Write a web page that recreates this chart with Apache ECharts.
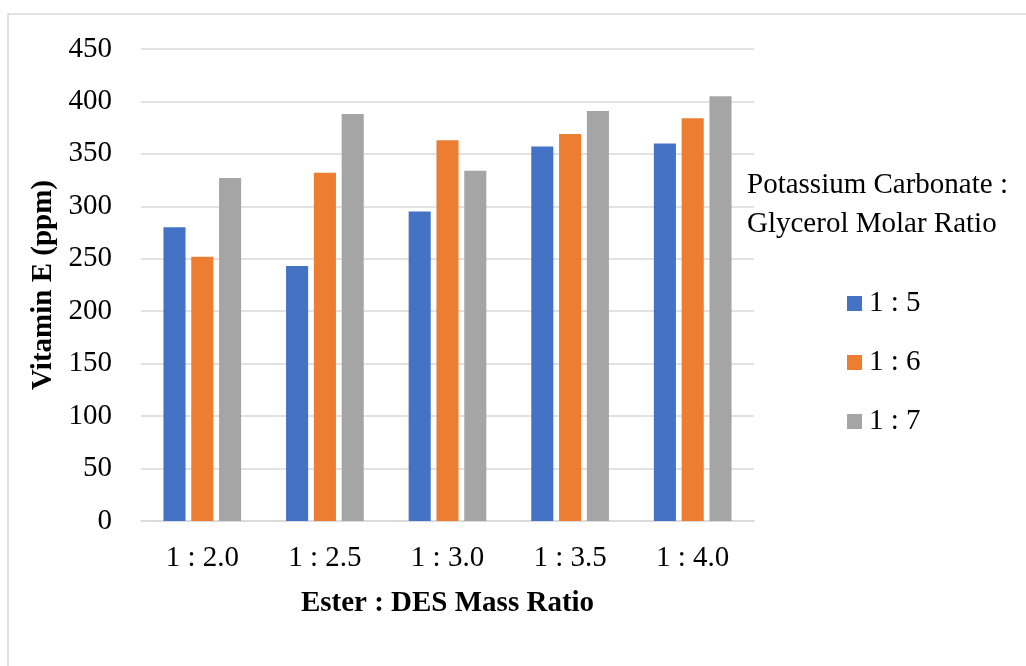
<!DOCTYPE html>
<html>
<head>
<meta charset="utf-8">
<script src="https://cdn.jsdelivr.net/npm/echarts@6/dist/echarts.min.js"></script>
<style>
html,body{margin:0;padding:0;background:#fff;}
#chart{width:1026px;height:666px;}
</style>
</head>
<body>
<div id="chart"></div>
<script>
const categories = ['1 : 2.0', '1 : 2.5', '1 : 3.0', '1 : 3.5', '1 : 4.0'];
const seriesNames = ['1 : 5', '1 : 6', '1 : 7'];
const ratio15 = [280, 243, 295, 357, 360];
const ratio16 = [252, 332, 363, 369, 384];
const ratio17 = [327, 388, 334, 391, 405];
const colors = ['#4472C4', '#ED7D31', '#A5A5A5'];
const yTicks = { min: 0, max: 450, interval: 50 };

const FONT = '"Liberation Serif", "Times New Roman", serif';
const chart = echarts.init(document.getElementById('chart'), null, { renderer: 'canvas' });
const seriesData = [ratio15, ratio16, ratio17];

chart.setOption({
  animation: false,
  backgroundColor: '#fff',
  color: colors,
  textStyle: { fontFamily: FONT },
  grid: { left: 141, right: 272, top: 49, bottom: 145, containLabel: false },
  graphic: [
    {
      type: 'rect',
      shape: { x: 8, y: 14, width: 1200, height: 800 },
      style: { fill: 'none', stroke: '#d9d9d9', lineWidth: 1.5 },
      silent: true, z: -1
    },
    {
      type: 'text',
      left: 747, top: 166,
      style: {
        text: 'Potassium Carbonate :\nGlycerol Molar Ratio',
        font: '29px ' + FONT,
        fill: '#000',
        lineHeight: 39
      }
    }
  ],
  legend: {
    orient: 'vertical',
    left: 847,
    top: 289,
    padding: 0,
    itemWidth: 15,
    itemHeight: 15,
    itemGap: 30,
    icon: 'rect',
    data: seriesNames,
    textStyle: { fontFamily: FONT, fontSize: 29, color: '#000', padding: [0, 0, 0, 2] }
  },
  xAxis: {
    type: 'category',
    data: categories,
    name: 'Ester : DES Mass Ratio',
    nameLocation: 'middle',
    nameGap: 68,
    nameTextStyle: { fontFamily: FONT, fontSize: 29, fontWeight: 'bold', color: '#000' },
    axisLine: { lineStyle: { color: '#d9d9d9', width: 1.5 } },
    axisTick: { show: false },
    axisLabel: { fontFamily: FONT, fontSize: 29, color: '#000', margin: 23 }
  },
  yAxis: {
    type: 'value',
    min: yTicks.min, max: yTicks.max, interval: yTicks.interval,
    name: 'Vitamin E (ppm)',
    nameLocation: 'middle',
    nameGap: 83,
    nameTextStyle: { fontFamily: FONT, fontSize: 29, fontWeight: 'bold', color: '#000' },
    axisLine: { show: false },
    axisTick: { show: false },
    splitLine: { lineStyle: { color: '#d9d9d9', width: 1.5 } },
    axisLabel: { fontFamily: FONT, fontSize: 29, color: '#000', margin: 29, padding: [4, 0, 0, 0] }
  },
  series: seriesNames.map((n, i) => ({
    name: n,
    type: 'bar',
    data: seriesData[i],
    barWidth: '18%',
    barGap: '26%',
    itemStyle: { color: colors[i] }
  }))
});
</script>
</body>
</html>
